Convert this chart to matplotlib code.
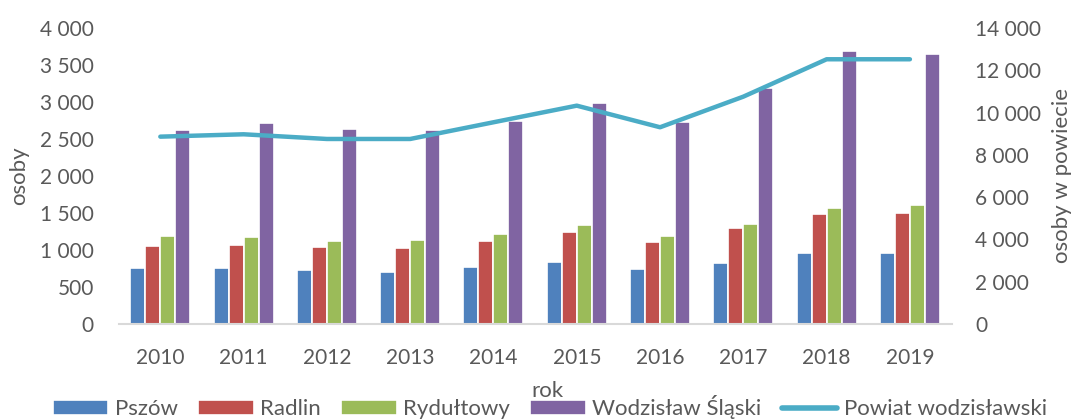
import numpy as np
import matplotlib.pyplot as plt
from matplotlib.ticker import FuncFormatter
from matplotlib.lines import Line2D

plt.rcParams['font.family'] = ['Lato', 'DejaVu Sans']

years = ['2010', '2011', '2012', '2013', '2014', '2015', '2016', '2017', '2018', '2019']
pszow = [760, 757, 734, 699, 770, 834, 743, 829, 955, 959]
radlin = [1059, 1068, 1041, 1023, 1126, 1239, 1108, 1293, 1491, 1495]
rydultowy = [1194, 1172, 1122, 1135, 1212, 1338, 1189, 1347, 1568, 1604]
wodzislaw = [2622, 2716, 2635, 2622, 2743, 2986, 2725, 3194, 3689, 3649]
powiat = [8860, 8972, 8750, 8750, 9540, 10326, 9304, 10752, 12520, 12520]

series_names = ['Pszów', 'Radlin', 'Rydułtowy', 'Wodzisław Śląski']
colors = ['#4F81BD', '#C0504D', '#9BBB59', '#8064A2']
line_color = '#4BACC6'
txt = '#595959'

fmt = FuncFormatter(lambda v, p: f'{v:,.0f}'.replace(',', ' '))

fig = plt.figure(figsize=(10.74, 4.2), dpi=100)
ax = fig.add_axes([0.1105, 0.2286, 0.7755, 0.7048])
ax2 = ax.twinx()

x = np.arange(len(years))
w = 0.18
for i, (name, vals, c) in enumerate(zip(series_names, [pszow, radlin, rydultowy, wodzislaw], colors)):
    ax.bar(x + (i - 1.5) * w, vals, width=w, color=c, edgecolor='white',
           linewidth=1.2, label=name, zorder=2)

ax2.plot(x, powiat, color=line_color, lw=3.2, solid_capstyle='round',
         solid_joinstyle='round', label='Powiat wodzisławski')

ax.set_xlim(-0.5, len(years) - 0.5)
ax.set_ylim(0, 4000)
ax.set_yticks(np.arange(0, 4001, 500))
ax2.set_ylim(0, 14000)
ax2.set_yticks(np.arange(0, 14001, 2000))
ax.yaxis.set_major_formatter(fmt)
ax2.yaxis.set_major_formatter(fmt)
ax.set_xticks(x)
ax.set_xticklabels(years)

for a in (ax, ax2):
    for s in ('top', 'left', 'right', 'bottom'):
        a.spines[s].set_visible(False)
    a.tick_params(length=0, labelsize=15, colors=txt)
ax.spines['bottom'].set_visible(True)
ax.spines['bottom'].set_color('#D9D9D9')
ax.spines['bottom'].set_linewidth(1.5)
ax.tick_params(axis='x', pad=17)
ax.tick_params(axis='y', pad=18)
ax2.tick_params(axis='y', pad=17)

ax.set_ylabel('osoby', fontsize=16, color=txt, labelpad=8)
ax2.set_ylabel('osoby w powiecie', fontsize=16, color=txt, labelpad=8)
fig.text(0.51, 0.068, 'rok', fontsize=16, color=txt, ha='center', va='center')

handles, labels = ax.get_legend_handles_labels()
handles.append(Line2D([0], [0], color=line_color, lw=4, solid_capstyle='round'))
labels.append('Powiat wodzisławski')
fig.legend(handles, labels, ncol=5, loc='center', bbox_to_anchor=(0.512, 0.03),
           frameon=False, fontsize=16, handlelength=2.5, handleheight=0.65,
           handletextpad=0.3, columnspacing=0.9, labelcolor=txt,
           borderpad=0.1)

fig.savefig('out.png', dpi=100)
